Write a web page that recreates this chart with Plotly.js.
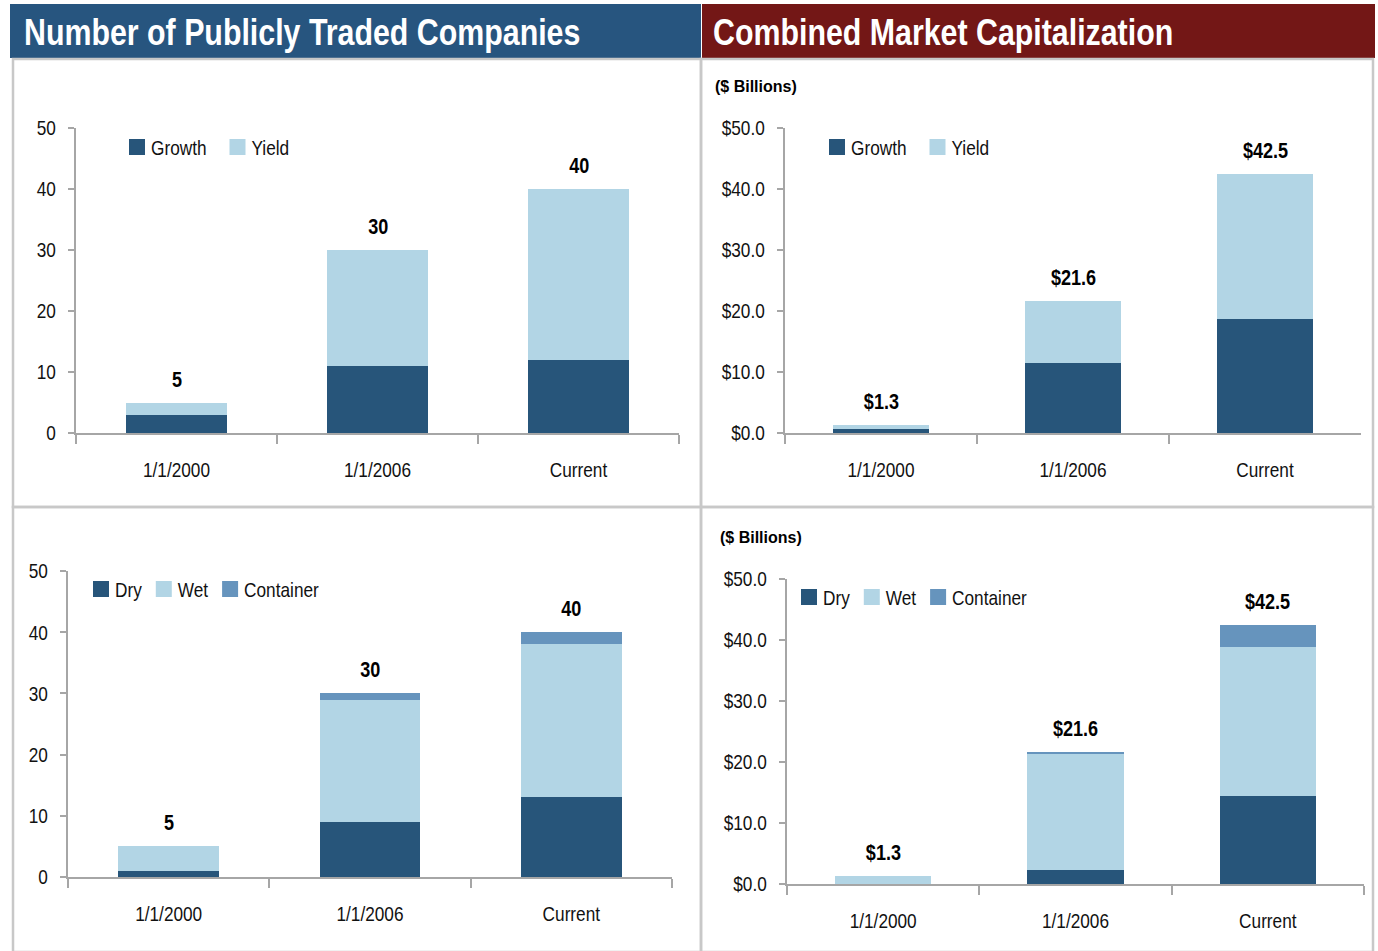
<!DOCTYPE html>
<html><head><meta charset="utf-8">
<script src="https://cdn.plot.ly/plotly-3.0.1.min.js"></script>
<style>html,body{margin:0;padding:0;background:#fff;}#chart{width:1378px;height:951px;}</style>
</head><body><div id="chart"></div>
<script>
const categories = ['1/1/2000', '1/1/2006', 'Current'];
const countGrowth = [3, 11, 12];
const countYield = [2, 19, 28];
const capGrowth = [0.7, 11.5, 18.7];
const capYield = [0.6, 10.1, 23.8];
const countDry = [1, 9, 13];
const countWet = [4, 20, 25];
const countContainer = [0, 1, 2];
const capDry = [0.0, 2.3, 14.4];
const capWet = [1.3, 19.0, 24.5];
const capContainer = [0.0, 0.3, 3.6];
const titleLeft = 'Number of Publicly Traded Companies';
const titleRight = 'Combined Market Capitalization';
const unitLabel = '($ Billions)';

const W = 1378, H = 951;
const FONT = '"Liberation Sans", Arial, sans-serif';
const NARROW = 0.82;
const C_DARK = '#27557a', C_LIGHT = '#b2d5e5', C_MID = '#6694bd';
const GRID = '#a6a6a6';
const xf = p => p / W, yf = p => 1 - p / H;

function sum(arrs) { return arrs[0].map((_, i) => arrs.reduce((s, a) => s + a[i], 0)); }

const traces = [];
function bar(name, y, color, ax, lg) {
  traces.push({type: 'bar', name, x: categories, y, marker: {color, line: {width: 0}},
    xaxis: 'x' + ax, yaxis: 'y' + ax, legend: lg, showlegend: true, width: 0.5, hoverinfo: 'none'});
}
bar('Growth', countGrowth, C_DARK, '', 'legend');
bar('Yield', countYield, C_LIGHT, '', 'legend');
bar('Growth', capGrowth, C_DARK, '2', 'legend2');
bar('Yield', capYield, C_LIGHT, '2', 'legend2');
bar('Dry', countDry, C_DARK, '3', 'legend3');
bar('Wet', countWet, C_LIGHT, '3', 'legend3');
bar('Container', countContainer, C_MID, '3', 'legend3');
bar('Dry', capDry, C_DARK, '4', 'legend4');
bar('Wet', capWet, C_LIGHT, '4', 'legend4');
bar('Container', capContainer, C_MID, '4', 'legend4');

function xax(x0, x1, anchor) {
  return {domain: [xf(x0), xf(x1)], anchor, type: 'category', range: [-0.5, 2.5],
    showline: true, linecolor: GRID, linewidth: 2, ticks: 'outside', tickson: 'boundaries',
    ticklen: 9, tickwidth: 2, tickcolor: GRID, showgrid: false, zeroline: false,
    tickfont: {family: FONT, size: 21, color: '#111'}, ticklabelstandoff: 17, fixedrange: true};
}
function yax(y0px, y50px, anchor, money) {
  return {domain: [yf(y0px), yf(y50px)], anchor, range: [0, 50], dtick: 10, tick0: 0,
    showline: true, linecolor: GRID, linewidth: 2, ticks: 'outside', ticklen: 6, tickwidth: 2,
    tickcolor: GRID, showgrid: false, zeroline: false,
    tickprefix: money ? '$' : '', tickformat: money ? '.1f' : 'd',
    tickfont: {family: FONT, size: 21, color: '#111'}, ticklabelstandoff: 8, fixedrange: true};
}

const annotations = [];
function totals(vals, ax, money) {
  vals.forEach((v, i) => annotations.push({xref: 'x' + ax, yref: 'y' + ax, x: categories[i], y: v,
    text: money ? '$' + v.toFixed(1) : String(Math.round(v)), showarrow: false, yanchor: 'bottom', yshift: 9,
    font: {family: FONT, size: 22, color: '#000', weight: 'bold'}}));
}
totals(sum([countGrowth, countYield]), '', false);
totals(sum([capGrowth, capYield]), '2', true);
totals(sum([countDry, countWet, countContainer]), '3', false);
totals(sum([capDry, capWet, capContainer]), '4', true);

annotations.push({xref: 'paper', yref: 'paper', x: xf(22), y: yf(32), xanchor: 'left', yanchor: 'middle',
  text: titleLeft, showarrow: false, font: {family: FONT, size: 37, color: '#fff', weight: 'bold'}});
annotations.push({xref: 'paper', yref: 'paper', x: xf(711), y: yf(32), xanchor: 'left', yanchor: 'middle',
  text: titleRight, showarrow: false, font: {family: FONT, size: 37, color: '#fff', weight: 'bold'}});
annotations.push({xref: 'paper', yref: 'paper', x: xf(713), y: yf(86), xanchor: 'left', yanchor: 'middle',
  text: unitLabel, showarrow: false, font: {family: FONT, size: 16, color: '#000', weight: 'bold'}});
annotations.push({xref: 'paper', yref: 'paper', x: xf(718), y: yf(537), xanchor: 'left', yanchor: 'middle',
  text: unitLabel, showarrow: false, font: {family: FONT, size: 16, color: '#000', weight: 'bold'}});

const PANEL = '#c8c8c8';
const shapes = [
  {type: 'rect', xref: 'paper', yref: 'paper', x0: xf(10), x1: xf(701), y0: yf(4), y1: yf(58), fillcolor: '#27557f', line: {width: 0}, layer: 'below'},
  {type: 'rect', xref: 'paper', yref: 'paper', x0: xf(702), x1: xf(1375), y0: yf(4), y1: yf(58), fillcolor: '#731716', line: {width: 0}, layer: 'below'},
  {type: 'rect', xref: 'paper', yref: 'paper', x0: xf(13), x1: xf(701), y0: yf(59), y1: yf(507), fillcolor: 'rgba(0,0,0,0)', line: {color: PANEL, width: 2.5}, layer: 'below'},
  {type: 'rect', xref: 'paper', yref: 'paper', x0: xf(13), x1: xf(701), y0: yf(507), y1: yf(952), fillcolor: 'rgba(0,0,0,0)', line: {color: PANEL, width: 2.5}, layer: 'below'},
  {type: 'rect', xref: 'paper', yref: 'paper', x0: xf(701), x1: xf(1373), y0: yf(59), y1: yf(507), fillcolor: 'rgba(0,0,0,0)', line: {color: PANEL, width: 2.5}, layer: 'below'},
  {type: 'rect', xref: 'paper', yref: 'paper', x0: xf(701), x1: xf(1373), y0: yf(507), y1: yf(952), fillcolor: 'rgba(0,0,0,0)', line: {color: PANEL, width: 2.5}, layer: 'below'}
];

function leg(xpx, ypx) {
  return {orientation: 'h', x: xf(xpx), y: yf(ypx), xanchor: 'left', yanchor: 'middle',
    bgcolor: 'rgba(0,0,0,0)', traceorder: 'normal', itemwidth: 30,
    font: {family: FONT, size: 21, color: '#111'}, itemclick: false, itemdoubleclick: false};
}

const layout = {
  width: W, height: H, margin: {l: 0, r: 0, t: 0, b: 0}, paper_bgcolor: '#fff', plot_bgcolor: 'rgba(0,0,0,0)',
  barmode: 'stack', bargap: 0.5, font: {family: FONT},
  xaxis: xax(76, 679, 'y'), yaxis: yax(433, 128, 'x', false),
  xaxis2: xax(785, 1361, 'y2'), yaxis2: yax(433, 128, 'x2', true),
  xaxis3: xax(68, 672, 'y3'), yaxis3: yax(877, 571, 'x3', false),
  xaxis4: xax(787, 1364, 'y4'), yaxis4: yax(884, 579, 'x4', true),
  legend: leg(112, 147), legend2: leg(812, 147), legend3: leg(76, 589), legend4: leg(783, 597),
  annotations, shapes
};

// Legend square targets (left edge, centre y, extra gap) in page pixels
const legendTargets = {legend: [129, 147, 5], legend2: [829, 147, 5], legend3: [93, 589, -4], legend4: [801, 597, -4]};

function parseT(el) {
  const m = /translate\(\s*([-\d.e]+)[ ,]+([-\d.e]+)/.exec(el.getAttribute('transform') || '');
  return m ? [+m[1], +m[2]] : [0, 0];
}

const gd = document.getElementById('chart');
Plotly.newPlot(gd, traces, layout, {staticPlot: true, displayModeBar: false}).then(() => {
  // Narrow the typeface horizontally (Arial Narrow look), keeping each text's anchor point.
  gd.querySelectorAll('text').forEach(t => {
    const s = t.textContent;
    if (!s || s === unitLabel) return;
    const bb = t.getBBox();
    const len = t.getComputedTextLength();
    if (!(len > 0)) return;
    t.setAttribute('textLength', (len * NARROW).toFixed(2));
    t.setAttribute('lengthAdjust', 'spacingAndGlyphs');
    if (s === titleLeft || s === titleRight) {
      t.setAttribute('text-anchor', 'start');
      t.style.textAnchor = 'start';
      t.setAttribute('x', bb.x);
    }
  });
  // Legends: bigger squares, tighter spacing, exact placement
  Object.keys(legendTargets).forEach(id => {
    const items = Array.from(gd.querySelectorAll('g.' + id + ' g.traces'));
    if (!items.length) return;
    const gap = legendTargets[id][2];
    items.forEach(it => it.querySelectorAll('g.legendpoints path').forEach(p => p.setAttribute('d', 'M14,8H-2V-8H14Z')));
    let x = parseT(items[0])[0];
    items.forEach(it => {
      const y = parseT(it)[1];
      it.setAttribute('transform', 'translate(' + x + ',' + y + ')');
      const t = it.querySelector('text');
      const w = t ? parseFloat(t.getAttribute('textLength') || t.getComputedTextLength()) : 0;
      x += 40 + w + gap;
    });
    const p0 = items[0].querySelector('g.legendpoints path');
    if (!p0) return;
    const r = p0.getBoundingClientRect();
    const dx = legendTargets[id][0] - r.left, dy = legendTargets[id][1] - (r.top + r.height / 2);
    items.forEach(it => {
      const [tx, ty] = parseT(it);
      it.setAttribute('transform', 'translate(' + (tx + dx) + ',' + (ty + dy) + ')');
    });
  });
});
</script></body></html>
